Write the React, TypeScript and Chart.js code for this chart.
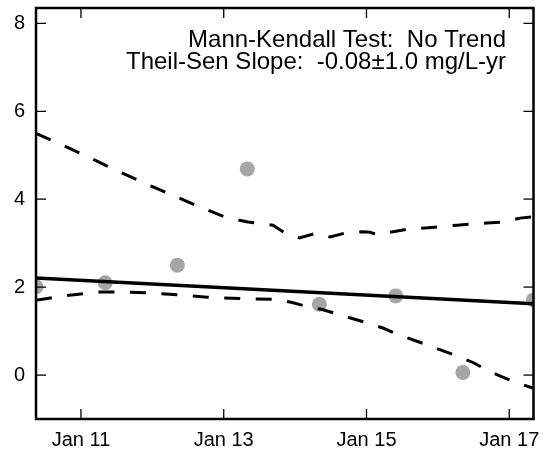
import React, { useEffect, useRef } from "react";
import { Chart, registerables } from "chart.js";

Chart.register(...registerables);

// ---- data ----
const sampleYears = [2010.37, 2011.34, 2012.35, 2013.33, 2014.34, 2015.41, 2016.35, 2017.34];
const sampleValues = [2.01, 2.1, 2.5, 4.69, 1.61, 1.8, 0.06, 1.71];

const trendYears = [2010.37, 2017.34];
const trendValues = [2.21, 1.62];

const upperYears = [
  2010.37, 2011.0, 2011.5, 2012.01, 2012.6, 2013.02, 2013.34, 2013.47, 2013.69, 2013.86,
  2014.06, 2014.28, 2014.49, 2014.7, 2014.94, 2015.05, 2015.15, 2015.37, 2015.58, 2015.86,
  2016.27, 2016.69, 2016.92, 2017.15, 2017.34,
];
const upperValues = [
  5.5, 5.04, 4.65, 4.28, 3.87, 3.59, 3.48, 3.46, 3.41, 3.23,
  3.12, 3.22, 3.14, 3.23, 3.26, 3.25, 3.19, 3.26, 3.32, 3.35,
  3.41, 3.46, 3.48, 3.57, 3.6,
];

const lowerYears = [
  2010.37, 2010.8, 2011.27, 2011.5, 2011.93, 2012.39, 2012.77, 2013.26, 2013.72, 2013.96,
  2014.14, 2014.38, 2014.59, 2015.02, 2015.23, 2015.44, 2015.86, 2016.29, 2016.5, 2016.69,
  2016.9, 2017.11, 2017.34,
];
const lowerValues = [
  1.7, 1.81, 1.89, 1.89, 1.87, 1.82, 1.77, 1.74, 1.72, 1.65,
  1.57, 1.49, 1.39, 1.18, 1.07, 0.92, 0.68, 0.42, 0.28, 0.11,
  -0.04, -0.18, -0.3,
];

const xTickYears = [2011, 2013, 2015, 2017];
const xTickLabels = ["Jan 11", "Jan 13", "Jan 15", "Jan 17"];
const yTickValues = [0, 2, 4, 6, 8];
const annotationLines = ["Mann-Kendall Test:  No Trend", "Theil-Sen Slope:  -0.08\u00b11.0 mg/L-yr"];

const FONT = "'Liberation Sans', Arial, sans-serif";

const framePlugin = {
  id: "frame",
  afterDraw(chart: any) {
    const { ctx, chartArea } = chart;
    const { left, right, top, bottom } = chartArea;
    const xs = chart.scales.x;
    const ys = chart.scales.y;
    ctx.save();
    ctx.strokeStyle = "#000";
    // inner tick marks on all four sides
    ctx.lineWidth = 1.3;
    const tl = 10;
    ctx.beginPath();
    xTickYears.forEach((v) => {
      const px = xs.getPixelForValue(v);
      ctx.moveTo(px, bottom);
      ctx.lineTo(px, bottom - tl);
      ctx.moveTo(px, top);
      ctx.lineTo(px, top + tl);
    });
    yTickValues.forEach((v) => {
      const py = ys.getPixelForValue(v);
      ctx.moveTo(left, py);
      ctx.lineTo(left + tl, py);
      ctx.moveTo(right, py);
      ctx.lineTo(right - tl, py);
    });
    ctx.stroke();
    // frame
    ctx.lineWidth = 2.5;
    ctx.strokeRect(left, top, right - left, bottom - top);
    // annotation
    ctx.fillStyle = "#000";
    ctx.font = `24px ${FONT}`;
    ctx.textAlign = "right";
    ctx.textBaseline = "alphabetic";
    ctx.fillText(annotationLines[0], 506, 47);
    ctx.fillText(annotationLines[1], 506, 69);
    ctx.restore();
  },
};

export default function App() {
  const canvasRef = useRef<HTMLCanvasElement | null>(null);

  useEffect(() => {
    const canvas = canvasRef.current;
    if (!canvas) return;
    const chart = new Chart(canvas, {
      type: "line",
      data: {
        datasets: [
          {
            label: "trend",
            data: trendYears.map((x, i) => ({ x, y: trendValues[i] })),
            borderColor: "#000",
            borderWidth: 3.5,
            pointRadius: 0,
            fill: false,
            tension: 0,
            clip: 0,
          },
          {
            label: "upper",
            data: upperYears.map((x, i) => ({ x, y: upperValues[i] })),
            borderColor: "#000",
            borderWidth: 3,
            borderDash: [16, 15.5],
            pointRadius: 0,
            fill: false,
            tension: 0,
            clip: 0,
          },
          {
            label: "lower",
            data: lowerYears.map((x, i) => ({ x, y: lowerValues[i] })),
            borderColor: "#000",
            borderWidth: 3,
            borderDash: [16, 15.5],
            pointRadius: 0,
            fill: false,
            tension: 0,
            clip: 0,
          },
          {
            label: "samples",
            data: sampleYears.map((x, i) => ({ x, y: sampleValues[i] })),
            showLine: false,
            pointRadius: 7.5,
            pointBackgroundColor: "#a6a6a6",
            pointBorderWidth: 0,
            borderColor: "#a6a6a6",
            clip: 0,
          },
        ],
      } as any,
      options: {
        animation: false,
        responsive: false,
        events: [],
        layout: { padding: { left: 0, right: 10.5, top: 8, bottom: 0 } },
        plugins: {
          legend: { display: false },
          tooltip: { enabled: false },
        },
        scales: {
          x: {
            type: "linear",
            min: 2010.37,
            max: 2017.34,
            afterBuildTicks: (s: any) => {
              s.ticks = xTickYears.map((v) => ({ value: v }));
            },
            afterFit: (s: any) => {
              s.height = 31;
              s.paddingLeft = 0;
              s.paddingRight = 0;
              s.paddingTop = 0;
              s.paddingBottom = 0;
            },
            grid: { display: false, drawTicks: false },
            border: { display: false },
            ticks: {
              autoSkip: false,
              maxRotation: 0,
              padding: 9,
              color: "#000",
              font: { family: FONT, size: 20 },
              callback: (_v: any, i: number) => xTickLabels[i],
            },
          },
          y: {
            type: "linear",
            min: -1,
            max: 8.35,
            afterBuildTicks: (s: any) => {
              s.ticks = yTickValues.map((v) => ({ value: v }));
            },
            afterFit: (s: any) => {
              s.width = 36;
              s.paddingLeft = 0;
              s.paddingRight = 0;
              s.paddingTop = 0;
              s.paddingBottom = 0;
            },
            grid: { display: false, drawTicks: false },
            border: { display: false },
            ticks: {
              padding: 11,
              color: "#000",
              font: { family: FONT, size: 20 },
              callback: (v: any) => String(v),
            },
          },
        },
      } as any,
      plugins: [framePlugin],
    });
    return () => chart.destroy();
  }, []);

  return (
    <div style={{ position: "absolute", left: 0, top: 0, width: 544, height: 450, background: "#fff" }}>
      <canvas ref={canvasRef} width={544} height={450} style={{ width: 544, height: 450, display: "block" }} />
    </div>
  );
}
